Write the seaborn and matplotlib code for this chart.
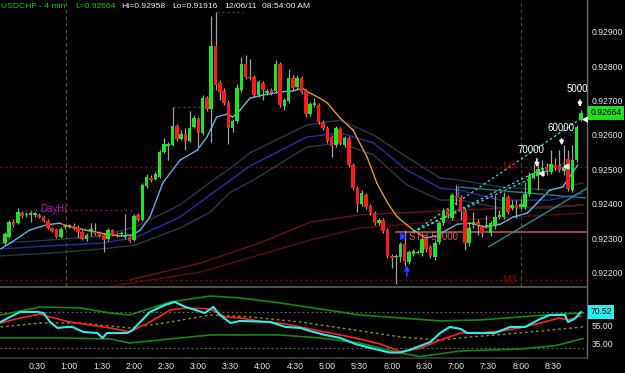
import numpy as np
import pandas as pd
import matplotlib
matplotlib.use("Agg")
import matplotlib.pyplot as plt
import matplotlib.transforms as mtransforms
import seaborn as sns

# ---------------- data (prices in 1e-5 units) ----------------
bar_minutes = np.arange(135) * 4  # 4-minute bars, minutes after 0:00

open_e5 = [92286, 92304, 92347, 92344, 92373, 92368, 92368, 92368, 92368, 92362,
           92350, 92330, 92327, 92304, 92333, 92336, 92336, 92330, 92318, 92298,
           92321, 92318, 92315, 92310, 92298, 92324, 92312, 92312, 92304, 92304,
           92295, 92368, 92353, 92452, 92475, 92472, 92478, 92551, 92568, 92571,
           92626, 92588, 92603, 92583, 92623, 92646, 92606, 92707, 92675, 92858,
           92751, 92728, 92693, 92620, 92641, 92731, 92806, 92768, 92768, 92716,
           92751, 92722, 92731, 92728, 92806, 92684, 92699, 92765, 92739, 92765,
           92728, 92661, 92687, 92687, 92638, 92620, 92594, 92571, 92617, 92571,
           92591, 92513, 92446, 92400, 92426, 92394, 92373, 92344, 92353, 92324,
           92249, 92246, 92246, 92283, 92231, 92254, 92257, 92257, 92301, 92275,
           92246, 92289, 92344, 92379, 92359, 92423, 92420, 92379, 92286, 92339,
           92347, 92333, 92336, 92315, 92336, 92362, 92362, 92420, 92388, 92397,
           92391, 92391, 92429, 92478, 92484, 92498, 92507, 92492, 92513, 92510,
           92495, 92530, 92440, 92527, 92643]
high_e5 = [92318, 92353, 92356, 92388, 92379, 92376, 92379, 92376, 92373, 92368,
           92356, 92333, 92330, 92333, 92339, 92341, 92344, 92339, 92324, 92315,
           92344, 92344, 92321, 92315, 92330, 92327, 92318, 92321, 92371, 92310,
           92371, 92373, 92461, 92487, 92484, 92492, 92556, 92591, 92580, 92681,
           92632, 92614, 92620, 92670, 92658, 92652, 92716, 92713, 92946, 92957,
           92760, 92736, 92702, 92646, 92748, 92826, 92832, 92821, 92774, 92760,
           92757, 92733, 92736, 92818, 92812, 92707, 92792, 92774, 92774, 92771,
           92733, 92696, 92707, 92693, 92643, 92626, 92600, 92626, 92623, 92597,
           92597, 92519, 92452, 92440, 92431, 92400, 92379, 92359, 92359, 92330,
           92254, 92254, 92289, 92324, 92266, 92269, 92266, 92307, 92307, 92280,
           92295, 92350, 92388, 92385, 92431, 92455, 92426, 92385, 92347, 92376,
           92356, 92339, 92368, 92350, 92426, 92382, 92434, 92426, 92411, 92411,
           92414, 92463, 92492, 92516, 92522, 92527, 92519, 92556, 92533, 92556,
           92571, 92556, 92571, 92629, 92673]
low_e5 = [92280, 92301, 92333, 92341, 92359, 92362, 92347, 92362, 92359, 92347,
          92327, 92318, 92301, 92301, 92327, 92330, 92324, 92301, 92295, 92292,
          92307, 92310, 92304, 92260, 92292, 92307, 92304, 92307, 92298, 92289,
          92292, 92350, 92350, 92446, 92463, 92469, 92475, 92548, 92527, 92568,
          92583, 92585, 92556, 92580, 92620, 92565, 92600, 92670, 92580, 92731,
          92702, 92687, 92574, 92609, 92635, 92725, 92763, 92760, 92710, 92710,
          92702, 92716, 92716, 92722, 92681, 92673, 92693, 92731, 92731, 92719,
          92652, 92655, 92681, 92632, 92614, 92577, 92536, 92565, 92571, 92565,
          92507, 92440, 92376, 92394, 92385, 92368, 92339, 92339, 92315, 92243,
          92214, 92167, 92231, 92220, 92225, 92249, 92254, 92249, 92260, 92243,
          92237, 92283, 92339, 92359, 92353, 92397, 92353, 92266, 92278, 92330,
          92310, 92304, 92330, 92307, 92327, 92356, 92356, 92371, 92382, 92359,
          92385, 92385, 92423, 92472, 92440, 92481, 92484, 92487, 92498, 92492,
          92484, 92437, 92434, 92522, 92641]
close_e5 = [92312, 92347, 92339, 92376, 92365, 92371, 92373, 92373, 92362, 92350,
            92330, 92321, 92304, 92327, 92336, 92339, 92327, 92318, 92298, 92310,
            92327, 92315, 92307, 92295, 92324, 92310, 92310, 92315, 92310, 92292,
            92365, 92353, 92455, 92478, 92469, 92487, 92551, 92574, 92574, 92626,
            92588, 92603, 92583, 92620, 92649, 92606, 92707, 92675, 92858, 92745,
            92725, 92693, 92620, 92641, 92736, 92806, 92768, 92765, 92716, 92754,
            92731, 92728, 92722, 92806, 92687, 92702, 92765, 92736, 92765, 92725,
            92661, 92690, 92693, 92638, 92620, 92583, 92568, 92620, 92577, 92591,
            92513, 92446, 92400, 92431, 92391, 92373, 92344, 92353, 92321, 92249,
            92243, 92249, 92283, 92234, 92260, 92263, 92260, 92298, 92269, 92249,
            92286, 92344, 92379, 92368, 92426, 92417, 92379, 92286, 92330, 92347,
            92339, 92315, 92339, 92344, 92362, 92368, 92420, 92376, 92397, 92388,
            92400, 92429, 92484, 92490, 92501, 92504, 92498, 92516, 92504, 92498,
            92507, 92443, 92527, 92623, 92664]

# fast moving average (knots)
fast_ma_t = [-4, 5, 23, 39, 51, 58, 75, 89, 107, 119, 126, 135, 147, 163, 179, 188, 197,
             207, 212, 219, 228, 240, 256, 268, 277, 282, 293, 300, 312, 324, 337, 346,
             356, 365, 374, 380, 391, 402, 411, 421, 433, 447, 461, 473, 486, 495, 507,
             519, 533]
fast_ma_e5 = [92269, 92286, 92324, 92339, 92344, 92336, 92324, 92315, 92307, 92310, 92324,
              92362, 92461, 92527, 92556, 92594, 92652, 92661, 92652, 92673, 92707, 92716,
              92725, 92728, 92736, 92725, 92707, 92693, 92649, 92614, 92536, 92461, 92403,
              92362, 92339, 92324, 92301, 92307, 92324, 92341, 92344, 92333, 92341, 92362,
              92373, 92402, 92440, 92449, 92513]

# slower moving-average ribbon
ribbon_t = [-4, 42, 89, 121, 163, 191, 210, 228, 281, 312, 343, 374, 405, 423, 461, 507, 538]
ribbon_upper_e5 = [92286, 92295, 92307, 92333, 92397, 92463, 92504, 92548, 92629, 92643,
                   92600, 92536, 92475, 92469, 92449, 92440, 92461]
ribbon_mid_e5 = [92269, 92278, 92286, 92301, 92362, 92426, 92469, 92510, 92594, 92606,
                 92577, 92498, 92446, 92440, 92411, 92411, 92431]
ribbon_lower_e5 = [92249, 92257, 92269, 92280, 92330, 92376, 92434, 92463, 92565, 92577,
                   92542, 92455, 92411, 92411, 92388, 92388, 92397]

# long moving averages (dark red)
long_a_t = [116, 182, 237, 284, 330, 423, 538]
long_a_e5 = [92179, 92228, 92286, 92347, 92368, 92382, 92397]
long_b_t = [89, 182, 237, 284, 330, 423, 538]
long_b_e5 = [92156, 92202, 92252, 92295, 92330, 92353, 92373]

# levels
level_m4 = 0.92507
level_m3 = 0.92179
level_dayhi = 0.92382
level_sth = 0.92318
last_price = 0.92664

# trend lines (start/end)
fan_start = (380, 0.92318)
fan_ends = [(498, 0.92498), (521, 0.92519), (538, 0.92652)]
channel_flat = [(422, 0.92449), (540, 0.92417)]
channel_rise = [(450, 0.92275), (542, 0.92446)]

# target arrows
target_t = [495, 518, 535]
target_tip = [0.92498, 0.92562, 0.92673]
target_tail = [0.92539, 0.92597, 0.92710]
target_labels = ["70000", "60000", "50000"]
target_label_t = [489, 517, 535]
target_label_p = [0.92556, 0.92620, 0.92733]
flag_t = [499, 522, 540]
flag_p = [0.92490, 0.92510, 0.92646]

# oscillator panel
cyan_t = [-4, 14, 30, 36, 42, 49, 58, 63, 73, 86, 91, 95, 114, 119, 126, 135, 149, 158,
          168, 177, 186, 194, 200, 210, 219, 247, 261, 275, 284, 298, 312, 326, 340, 358,
          368, 377, 396, 405, 414, 424, 430, 456, 470, 484, 498, 507, 521, 524, 530, 536]
cyan_v = [59.4, 70.6, 70.6, 69.4, 59.4, 52.8, 53.9, 53.9, 48.3, 47.2, 41.7, 47.2, 47.2,
          50.6, 59.4, 70.6, 78.3, 81.7, 76.1, 72.8, 69.4, 76.1, 67.2, 58.3, 60.6, 59.4,
          53.9, 52.8, 49.4, 45.0, 41.7, 35.0, 30.6, 25.5, 25.5, 28.5, 37.2, 47.2, 53.9,
          51.7, 47.2, 47.2, 53.9, 53.9, 62.8, 67.2, 67.2, 59.4, 62.8, 70.52]
red_t = [-4, 14, 33, 42, 61, 79, 98, 116, 135, 154, 168, 191, 205, 219, 242, 256, 275,
         293, 312, 330, 349, 368, 386, 405, 424, 442, 461, 479, 498, 516, 524, 536]
red_v = [58.3, 63.9, 68.3, 65.0, 59.4, 56.1, 52.8, 48.3, 59.4, 72.8, 75.0, 73.9, 65.0,
         63.9, 59.4, 58.3, 53.9, 49.4, 45.0, 40.6, 35.0, 26.5, 30.0, 39.4, 47.2, 47.2,
         49.4, 52.8, 58.3, 63.9, 61.7, 66.1]
band_up_t = [-4, 33, 70, 98, 116, 154, 191, 219, 256, 293, 330, 368, 405, 442, 479, 516, 538]
band_up_v = [67.2, 76.1, 75.0, 69.4, 67.2, 81.7, 88.3, 86.1, 80.6, 73.9, 67.2, 63.9, 60.6,
             61.7, 65.0, 68.3, 69.4]
band_lo_t = [-4, 51, 98, 116, 154, 191, 256, 293, 330, 368, 386, 424, 479, 512, 538]
band_lo_v = [41.7, 41.7, 40.6, 36.1, 40.6, 45.0, 45.0, 41.7, 36.1, 25.0, 21.0, 27.2, 29.4,
             33.0, 41.0]
band_mid_t = [-4, 33, 70, 116, 154, 191, 228, 275, 312, 368, 405, 433, 479, 538]
band_mid_v = [53.9, 58.3, 58.3, 52.8, 59.4, 67.2, 65.0, 59.4, 52.8, 42.8, 39.4, 42.8, 47.2, 53.9]
osc_last = 70.52

price_ticks = [0.922, 0.923, 0.924, 0.925, 0.926, 0.927, 0.928, 0.929]
osc_ticks = [35, 55, 75]
time_ticks = [30, 60, 90, 120, 150, 180, 210, 240, 270, 300, 330, 360, 390, 420, 450, 480, 510]
time_labels = ["0:30", "1:00", "1:30", "2:00", "2:30", "3:00", "3:30", "4:00", "4:30",
               "5:00", "5:30", "6:00", "6:30", "7:00", "7:30", "8:00", "8:30"]

# ---------------- style ----------------
sns.set_theme(style="dark")
plt.rcParams['font.family'] = ['Liberation Sans', 'DejaVu Sans']
plt.rcParams['axes.facecolor'] = 'black'
plt.rcParams['figure.facecolor'] = 'black'

W, H = 625, 373
fig = plt.figure(figsize=(W / 100, H / 100), dpi=100, facecolor='black')
ax1 = fig.add_axes([0, 1 - 286 / H, 587 / W, 286 / H])
ax2 = fig.add_axes([0, 1 - 358 / H, 587 / W, 71 / H])
XMIN, XMAX = -4.5, 541.6
AX_FS = 6.2
for ax in (ax1, ax2):
    ax.set_facecolor('black')
    ax.set_xlim(XMIN, XMAX)
    ax.grid(False)
    for s in ['left', 'top', 'bottom']:
        ax.spines[s].set_visible(False)
    ax.spines['right'].set_color('#6a6a6a')
    ax.spines['right'].set_linewidth(1)
    ax.yaxis.tick_right()
    ax.tick_params(axis='y', colors='#e6e6e6', length=0, pad=3.5, labelsize=AX_FS)

ax1.set_ylim(0.921615, 0.92992)
ax1.set_xticks([])
ax1.set_yticks(price_ticks)
ax1.set_yticklabels([f"{v:.5f}" for v in price_ticks])

t = bar_minutes.astype(float)
o = np.array(open_e5) / 1e5
h = np.array(high_e5) / 1e5
l = np.array(low_e5) / 1e5
c = np.array(close_e5) / 1e5

# levels and guides (behind)
ax1.axhline(level_m4, color='#a00000', lw=0.9, ls=(0, (1.5, 2.5)), zorder=1)
ax1.axhline(level_m3, color='#a00000', lw=0.9, ls=(0, (1.5, 2.5)), zorder=1)
ax1.hlines(level_dayhi, 19, 121, color='#8a1a8a', lw=0.9, ls=(0, (1.5, 2.5)), zorder=1)
ax1.hlines(0.92957, 197, 222, color='#8a1a8a', lw=0.9, ls=(0, (1.5, 2.5)), zorder=1)
ax1.hlines(0.92681, 156, 182, color='#8a1a8a', lw=0.9, ls=(0, (1.5, 2.5)), zorder=1)
ax1.axvline(57, color='#5a5a10', lw=0.8, ls=(0, (3, 3)), zorder=1)
ax1.axvline(480, color='#2f5555', lw=0.8, ls=(0, (3, 3)), zorder=1)
ax1.hlines(level_sth, 363, XMAX, color='#8a4545', lw=1.6, zorder=1)

# moving averages
rib_t = np.array(ribbon_t, float)
sns.lineplot(x=rib_t, y=np.array(ribbon_upper_e5) / 1e5, ax=ax1, color='#24384a', lw=1, zorder=2, sort=False, estimator=None)
sns.lineplot(x=rib_t, y=np.array(ribbon_lower_e5) / 1e5, ax=ax1, color='#24384a', lw=1, zorder=2, sort=False, estimator=None)
sns.lineplot(x=rib_t, y=np.array(ribbon_mid_e5) / 1e5, ax=ax1, color='#2a2aa8', lw=1, zorder=2, sort=False, estimator=None)
sns.lineplot(x=long_a_t, y=np.array(long_a_e5) / 1e5, ax=ax1, color='#6a1010', lw=1, zorder=2, sort=False, estimator=None)
sns.lineplot(x=long_b_t, y=np.array(long_b_e5) / 1e5, ax=ax1, color='#5a0c0c', lw=1, zorder=2, sort=False, estimator=None)

fm_t = np.array(fast_ma_t, float)
fm_p = np.array(fast_ma_e5) / 1e5
for i in range(len(fm_t) - 1):
    col = '#5ab4e6' if fm_p[i + 1] >= fm_p[i] else '#e0982e'
    ax1.plot(fm_t[i:i + 2], fm_p[i:i + 2], color=col, lw=1.0, zorder=2, solid_capstyle='round')

# trend lines
for te, pe in fan_ends:
    ax1.plot([fan_start[0], te], [fan_start[1], pe], color='#3ad8d8', lw=0.9,
             ls=(0, (2, 2)), zorder=2)
ax1.plot([p[0] for p in channel_flat], [p[1] for p in channel_flat], color='#1f8080', lw=1, zorder=2)
ax1.plot([channel_flat[0][0]] * 2, [channel_flat[0][1], 0.92423], color='#1f8080', lw=1, zorder=2)
ax1.plot([p[0] for p in channel_rise], [p[1] for p in channel_rise], color='#1f9090', lw=1, zorder=2)

# candles
ax1.vlines(t, l, h, color='#a0a0a0', lw=0.9, zorder=3)
up = c >= o
bottom = np.minimum(o, c)
height = np.maximum(np.abs(c - o), 2.3e-5)
ax1.bar(t[up], height[up], bottom=bottom[up], width=3.3, color='#1ee61e', linewidth=0, zorder=4)
ax1.bar(t[~up], height[~up], bottom=bottom[~up], width=3.3, color='#ff1a1a', linewidth=0, zorder=4)

# annotations
ax1.text(33, level_dayhi + 0.00002, "DayHi", color='#a020a0', fontsize=7, va='center', ha='left', zorder=5)
ax1.text(469, level_m4, "M4", color='#8a0000', fontsize=7.5, va='center', ha='center', zorder=5)
ax1.text(469, level_m3, "M3", color='#8a0000', fontsize=7.5, va='center', ha='center', zorder=5)
ax1.text(376, 0.92304, "STH 50000", color='#e05a5a', fontsize=7, va='center', ha='left', zorder=5)
ax1.plot([370], [0.92307], marker='>', color='#2040ff', ms=4.5, zorder=5)
ax1.annotate('', xy=(374, 0.92230), xytext=(374, 0.92183),
             arrowprops=dict(arrowstyle='-|>', color='#2040ff', lw=1.2, mutation_scale=7), zorder=5)
for tt, tip, tail in zip(target_t, target_tip, target_tail):
    ax1.annotate('', xy=(tt, tip), xytext=(tt, tail),
                 arrowprops=dict(arrowstyle='-|>', color='white', lw=1.1, mutation_scale=6), zorder=6)
for lab, lt, lp in zip(target_labels, target_label_t, target_label_p):
    ax1.text(lt, lp, lab, color='white', fontsize=7, ha='center', va='center', zorder=6, clip_on=True)
ax1.plot(flag_t, flag_p, ls='none', marker='<', color='white', ms=3.5, zorder=6)

trans1 = mtransforms.blended_transform_factory(ax1.transAxes, ax1.transData)
ax1.text(1.006, last_price, f"{last_price:.5f}", transform=trans1, ha='left', va='center',
         fontsize=AX_FS, color='black', clip_on=False, zorder=10,
         bbox=dict(boxstyle='square,pad=0.25', fc='#22dd22', ec='none'))

# ---------------- oscillator panel ----------------
ax2.set_ylim(19.4, 98.3)
ax2.spines['top'].set_visible(True)
ax2.spines['top'].set_color('#5a5a5a')
ax2.spines['bottom'].set_visible(True)
ax2.spines['bottom'].set_color('#3a3a3a')
ax2.set_yticks(osc_ticks)
ax2.set_yticklabels([f"{v:.2f}" for v in osc_ticks])
ax2.set_xticks(time_ticks)
ax2.set_xticklabels(time_labels)
ax2.tick_params(axis='x', colors='#e6e6e6', length=0, pad=3, labelsize=6.3)

ax2.axhline(70, color='#6a6a6a', lw=0.8, ls=(0, (1.5, 2.5)), zorder=1)
ax2.axhline(30, color='#6a6a6a', lw=0.8, ls=(0, (1.5, 2.5)), zorder=1)
sns.lineplot(x=band_up_t, y=band_up_v, ax=ax2, color='#128a12', lw=1.2, zorder=2, sort=False, estimator=None)
sns.lineplot(x=band_lo_t, y=band_lo_v, ax=ax2, color='#128a12', lw=1.2, zorder=2, sort=False, estimator=None)
sns.lineplot(x=band_mid_t, y=band_mid_v, ax=ax2, color='#8a8a10', lw=1.0, ls=(0, (2, 2)), zorder=2, sort=False, estimator=None)
sns.lineplot(x=red_t, y=red_v, ax=ax2, color='#ff2020', lw=1.2, zorder=3, sort=False, estimator=None)
sns.lineplot(x=cyan_t, y=cyan_v, ax=ax2, color='#22f0f0', lw=1.5, zorder=4, sort=False, estimator=None)
ax2.set_xlim(XMIN, XMAX)
ax1.set_xlim(XMIN, XMAX)
ax1.set_xlabel(''); ax1.set_ylabel('')
ax2.set_xlabel(''); ax2.set_ylabel('')

trans2 = mtransforms.blended_transform_factory(ax2.transAxes, ax2.transData)
ax2.text(1.006, osc_last, f"{osc_last:.2f}", transform=trans2, ha='left', va='center',
         fontsize=AX_FS, color='black', clip_on=False, zorder=10,
         bbox=dict(boxstyle='square,pad=0.25', fc='#22f0f0', ec='none'))

# ---------------- header ----------------
yt = 1 - 7 / H
HFS = 6.1
fig.text(1 / W, yt, "USDCHF - 4 min", color='#12d012', fontsize=HFS, va='center', ha='left')
fig.text(75 / W, yt, "L=0.92664", color='#12d012', fontsize=HFS, va='center', ha='left')
fig.text(121 / W, yt, "Hi=0.92958", color='#f0f0f0', fontsize=HFS, va='center', ha='left')
fig.text(172 / W, yt, "Lo=0.91916", color='#f0f0f0', fontsize=HFS, va='center', ha='left')
fig.text(224 / W, yt, "12/06/11", color='#f0f0f0', fontsize=HFS, va='center', ha='left')
fig.text(262 / W, yt, "08:54:00 AM", color='#f0f0f0', fontsize=HFS, va='center', ha='left')

fig.savefig("out.png", dpi=100, facecolor='black')
